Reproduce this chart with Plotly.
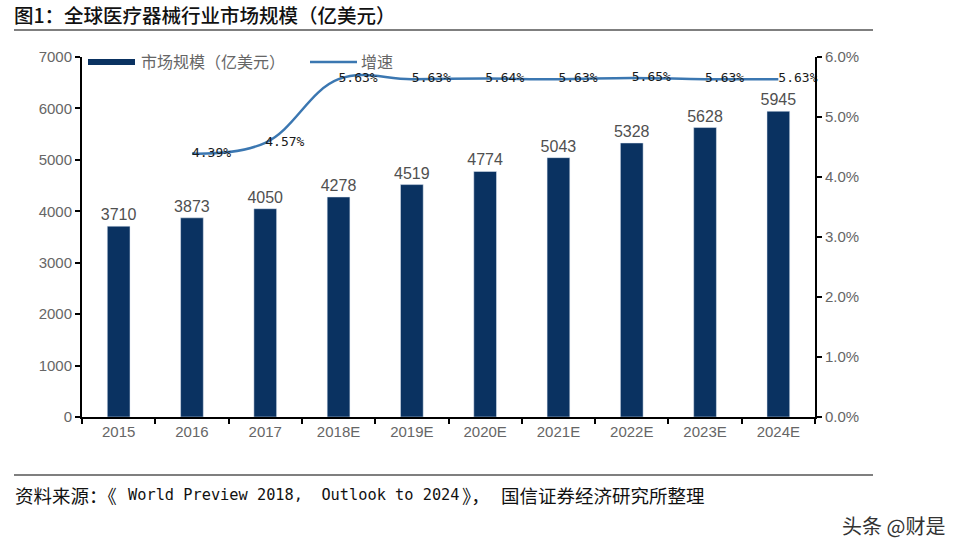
import plotly.graph_objects as go

years = ["2015", "2016", "2017", "2018E", "2019E", "2020E", "2021E", "2022E", "2023E", "2024E"]
market = [3710, 3873, 4050, 4278, 4519, 4774, 5043, 5328, 5628, 5945]
growth_years = years[1:]
growth = [4.39, 4.57, 5.63, 5.63, 5.64, 5.63, 5.65, 5.63, 5.63]
growth_labels = ["4.39%", "4.57%", "5.63%", "5.63%", "5.64%", "5.63%", "5.65%", "5.63%", "5.63%"]

CJK = "Noto Sans CJK SC"
LAT = "Liberation Sans, Arial"
MONO = "DejaVu Sans Mono"
GRAY = "#666666"
BAR = "#0a3261"
LINE = "#3b77b1"

W, H = 962, 555
# plot area in page pixels: x 82..815, y 57..417
L, T = 82, 57
R, B = W - 815, H - 417
PW, PH = W - L - R, H - T - B


def px(x):
    return (x - L) / PW


def py(y):
    return (H - B - y) / PH


fig = go.Figure()
fig.add_trace(go.Bar(
    x=years, y=market, name="市场规模（亿美元）",
    marker_color=BAR, width=0.31,
    text=[str(v) for v in market], textposition="outside", constraintext="none",
    textfont=dict(family=LAT, size=16, color="#505050"),
    cliponaxis=False,
))
fig.add_trace(go.Scatter(
    x=growth_years, y=[g / 100 for g in growth], name="增速", yaxis="y2",
    mode="lines+text", line=dict(color=LINE, width=2.5, shape="spline", smoothing=1.1),
    text=growth_labels, textposition="middle right",
    textfont=dict(family=MONO, size=13, color="#1a1a1a"),
    cliponaxis=False,
))

fig.update_layout(
    width=W, height=H,
    margin=dict(l=L, r=R, t=T, b=B, autoexpand=False),
    paper_bgcolor="white", plot_bgcolor="white",
    font=dict(family=CJK, size=13, color=GRAY),
    showlegend=False,
    xaxis=dict(type="category", showline=True, linecolor="black", linewidth=2,
               ticks="outside", tickson="boundaries", ticklen=5, tickcolor="black", tickwidth=2,
               tickfont=dict(family=LAT, size=15, color=GRAY),
               showgrid=False, automargin=False),
    yaxis=dict(range=[0, 7000], dtick=1000, showline=True, linecolor="black", linewidth=2,
               ticks="outside", ticklen=5, tickcolor="black", tickwidth=2, showgrid=False,
               zeroline=False, automargin=False,
               tickfont=dict(family=LAT, size=15, color=GRAY)),
    yaxis2=dict(range=[0, 0.06], dtick=0.01, tickformat=".1%", overlaying="y", side="right",
                showline=True, linecolor="black", linewidth=2, ticks="outside", ticklen=5,
                tickcolor="black", tickwidth=2, showgrid=False, zeroline=False, automargin=False,
                tickfont=dict(family=LAT, size=15, color=GRAY)),
)

# custom legend
fig.add_shape(type="rect", xref="paper", yref="paper", x0=px(88), x1=px(135),
              y0=py(65), y1=py(59), fillcolor=BAR, line=dict(width=0))
fig.add_annotation(text="市场规模（亿美元）", xref="paper", yref="paper", x=px(139), y=py(61),
                   xanchor="left", yanchor="middle", showarrow=False,
                   font=dict(family=CJK, size=16, color=GRAY))
fig.add_shape(type="line", xref="paper", yref="paper", x0=px(310), x1=px(357),
              y0=py(62), y1=py(62), line=dict(color=LINE, width=2.5))
fig.add_annotation(text="增速", xref="paper", yref="paper", x=px(359), y=py(61),
                   xanchor="left", yanchor="middle", showarrow=False,
                   font=dict(family=CJK, size=16, color=GRAY))

# title, rules, source, watermark
fig.add_annotation(text="图1：全球医疗器械行业市场规模（亿美元）", xref="paper", yref="paper",
                   x=px(12), y=py(15), xanchor="left", yanchor="middle", showarrow=False,
                   font=dict(family=CJK, size=19.5, color="#111111", weight=500))
fig.add_shape(type="line", xref="paper", yref="paper", x0=px(14), x1=px(873),
              y0=py(30), y1=py(30), line=dict(color="black", width=1.2))
fig.add_shape(type="line", xref="paper", yref="paper", x0=px(14), x1=px(873),
              y0=py(475), y1=py(475), line=dict(color="black", width=1.2))
NB = "\u00a0"
src_font = dict(family=CJK, size=18.5, color="#111111")
fig.add_annotation(text="资料来源：《", xref="paper", yref="paper", x=px(13), y=py(495),
                   xanchor="left", yanchor="middle", showarrow=False, font=src_font)
fig.add_annotation(text="World" + NB + "Preview" + NB + "2018," + NB * 2 + "Outlook" + NB + "to" + NB + "2024",
                   xref="paper", yref="paper", x=px(126), y=py(495),
                   xanchor="left", yanchor="middle", showarrow=False,
                   font=dict(family=MONO, size=15.3, color="#111111"))
fig.add_annotation(text="》，", xref="paper", yref="paper", x=px(460), y=py(495),
                   xanchor="left", yanchor="middle", showarrow=False, font=src_font)
fig.add_annotation(text="国信证券经济研究所整理", xref="paper", yref="paper", x=px(499), y=py(495),
                   xanchor="left", yanchor="middle", showarrow=False, font=src_font)
fig.add_annotation(text="头条 @财是", xref="paper", yref="paper", x=px(947), y=py(525),
                   xanchor="right", yanchor="middle", showarrow=False,
                   font=dict(family=CJK, size=20, color="#333333"))

fig.write_html("out.html", config={"displayModeBar": False},
               post_script="document.body.style.margin='0';")
